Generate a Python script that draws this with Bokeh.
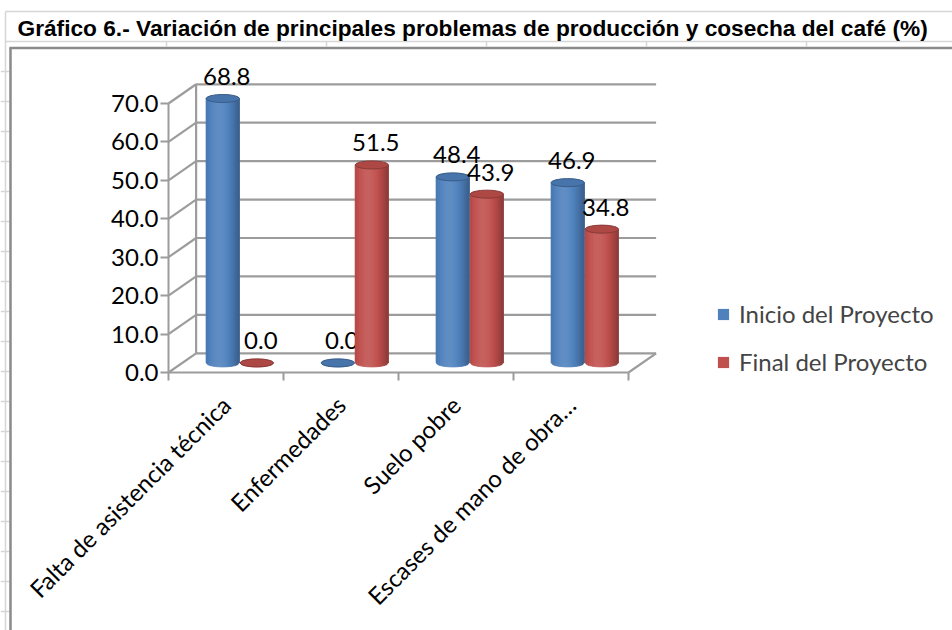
import math
from bokeh.plotting import figure
from bokeh.models import (Range1d, LinearAxis, FixedTicker, NumeralTickFormatter,
                          ColumnDataSource, Legend, LegendItem)
from bokeh.core.properties import value
from bokeh.embed import file_html
from bokeh.resources import INLINE

# ---------------- data ----------------
title_text = "Gráfico 6.- Variación de principales problemas de producción y cosecha del café (%)"
categories = ["Falta de asistencia técnica", "Enfermedades", "Suelo pobre", "Escases de mano de obra…"]
series_names = ["Inicio del Proyecto", "Final del Proyecto"]
inicio = [68.8, 0.0, 48.4, 46.9]
final = [0.0, 51.5, 43.9, 34.8]
y_ticks = [0, 10, 20, 30, 40, 50, 60, 70]

# ---------------- layout / style ----------------
W, H = 952, 630
ORX, ORY = 168, 372          # canvas px of the front-left data origin
PX_X, PX_Y = 115.0, 3.843    # px per x unit / per y unit
DX, DY = 0.24, 5.0           # 3-D depth offset (data units)
BW = 0.29                    # cylinder width (x units)
PAIR = 0.148                 # half distance between series cylinders
CAP_H = 2.1                  # cap ellipse height (y units)
NSTRIP = 16
COLORS = [(79, 129, 189), (192, 80, 77)]
GRID = "#9c9c9c"
FONT = "Lato"

x_start, x_end = -ORX / PX_X, (W - ORX) / PX_X
y_start, y_end = -(H - ORY) / PX_Y, ORY / PX_Y


def sx(px):  # canvas pixel -> data x
    return (px - ORX) / PX_X


def sy(py):  # canvas pixel -> data y
    return (ORY - py) / PX_Y


def hexc(rgb):
    return "#%02x%02x%02x" % tuple(max(0, min(255, int(round(c)))) for c in rgb)


def shade(rgb, k):
    if k <= 1:
        return hexc([c * k for c in rgb])
    return hexc([c + (255 - c) * (k - 1) for c in rgb])


p = figure(width=W, height=H, x_range=Range1d(x_start, x_end), y_range=Range1d(y_start, y_end),
           output_backend="svg", toolbar_location=None, x_axis_type=None, y_axis_type=None,
           min_border=0)
p.outline_line_color = None
p.background_fill_color = "white"
p.border_fill_color = "white"

# ---------------- sheet decoration ----------------
cell = dict(line_color="#d6d6d6", line_width=1.5)
p.segment(x0=[sx(5), sx(5)], y0=[sy(11), sy(41)], x1=[sx(952), sx(952)], y1=[sy(11), sy(41)], **cell)
p.segment(x0=[sx(5)], y0=[sy(11)], x1=[sx(5)], y1=[sy(630)], **cell)
cx = [166, 326, 486, 646, 806]
p.segment(x0=[sx(c) for c in cx], y0=[sy(41)] * 5, x1=[sx(c) for c in cx], y1=[sy(46)] * 5, **cell)
rows = list(range(71, 630, 30))
p.segment(x0=[sx(0)] * len(rows), y0=[sy(r) for r in rows], x1=[sx(9)] * len(rows),
          y1=[sy(r) for r in rows], **cell)
p.segment(x0=[sx(9), sx(10)], y0=[sy(47.5), sy(47)], x1=[sx(952), sx(10)], y1=[sy(47.5), sy(640)],
          line_color="#8a8a8a", line_width=2.5)
p.text(x=[sx(17)], y=[sy(27.5)], text=[title_text], text_font=value("Liberation Sans"),
       text_font_style="bold", text_font_size="22.7px", text_baseline="middle", text_align="left",
       text_color="black")

# ---------------- 3-D walls / gridlines ----------------
n = len(categories)
gx0, gy0, gx1, gy1 = [], [], [], []
for v in y_ticks:
    gx0 += [0, DX]; gy0 += [v, v + DY]
    gx1 += [DX, n + DX]; gy1 += [v + DY, v + DY]
gx0 += [DX, n]; gy0 += [DY, 0]
gx1 += [DX, n + DX]; gy1 += [y_ticks[-1] + DY, DY]
p.segment(x0=gx0, y0=gy0, x1=gx1, y1=gy1, line_color=GRID, line_width=2.2)

# ---------------- cylinders ----------------
base = DY / 2
hw = BW / 2
ch = CAP_H / 2
legend_renderers = []
for s, vals in enumerate([inicio, final]):
    col = COLORS[s]
    xcs = [i + 0.5 + DX / 2 + (2 * s - 1) * PAIR for i in range(n)]
    tops = [base + v for v in vals]
    body = p.quad(left=[x - hw for x in xcs], right=[x + hw for x in xcs],
                  bottom=[base] * n, top=tops, fill_color=hexc(col), line_color=None)
    legend_renderers.append(body)
    xs, ys, cs = [], [], []
    for xc, top in zip(xcs, tops):
        for j in range(NSTRIP):
            xa = xc - hw + j * BW / NSTRIP
            xb = xa + BW / NSTRIP
            t = (j + 0.5) / NSTRIP
            k = 0.70 + 0.40 * math.cos((t - 0.40) * math.pi / 1.25)
            ba = base - ch * math.sqrt(max(0.0, 1 - ((xa - xc) / hw) ** 2))
            bb = base - ch * math.sqrt(max(0.0, 1 - ((xb - xc) / hw) ** 2))
            xs.append([xa, xb, xb, xa])
            ys.append([top, top, bb, ba])
            cs.append(shade(col, k))
    p.patches(xs=xs, ys=ys, fill_color=cs, line_color=cs, line_width=0.8)
    p.ellipse(x=xcs, y=tops, width=BW, height=CAP_H, fill_color=shade(col, 0.9),
              line_color=shade(col, 0.72), line_width=1)
    src = ColumnDataSource(dict(x=xcs, y=tops, t=["%.1f" % v for v in vals]))
    p.text(x="x", y="y", text="t", source=src, x_offset=4, y_offset=-22,
           text_align="center", text_baseline="middle", text_font=value(FONT),
           text_font_size="24px", text_color="black")

# ---------------- axes ----------------
yax = LinearAxis(fixed_location=0, bounds=(0, y_ticks[-1]), ticker=FixedTicker(ticks=y_ticks),
                 formatter=NumeralTickFormatter(format="0.0"))
yax.axis_line_color = GRID
yax.axis_line_width = 2
yax.major_tick_line_color = GRID
yax.major_tick_line_width = 2
yax.major_tick_out = 8
yax.major_tick_in = 0
yax.minor_tick_line_color = None
yax.major_label_standoff = 2
yax.major_label_text_font = FONT
yax.major_label_text_font_size = "24px"
yax.major_label_text_color = "black"
p.add_layout(yax, "left")

centers = [i + 0.5 for i in range(n)]
xax = LinearAxis(fixed_location=0, bounds=(0, n),
                 ticker=FixedTicker(ticks=centers, minor_ticks=list(range(n + 1))),
                 major_label_overrides={c: lab for c, lab in zip(centers, categories)})
xax.axis_line_color = GRID
xax.axis_line_width = 2
xax.major_tick_line_color = None
xax.major_tick_out = 8
xax.major_tick_in = 0
xax.minor_tick_line_color = GRID
xax.minor_tick_line_width = 2
xax.minor_tick_out = 8
xax.minor_tick_in = 0
xax.major_label_orientation = math.pi / 4
xax.major_label_standoff = 20
xax.major_label_text_font = FONT
xax.major_label_text_font_size = "24px"
xax.major_label_text_color = "black"
p.add_layout(xax, "below")

# ---------------- legend ----------------
legend = Legend(items=[LegendItem(label=series_names[i], renderers=[legend_renderers[i]]) for i in range(2)],
                location=(716, 254), orientation="vertical", glyph_width=14, glyph_height=14,
                label_text_font=FONT, label_text_font_size="24px", label_standoff=9,
                spacing=19, padding=0, margin=0, border_line_color=None, background_fill_alpha=0)
p.add_layout(legend)

open("out.html", "w").write(file_html(p, INLINE))
